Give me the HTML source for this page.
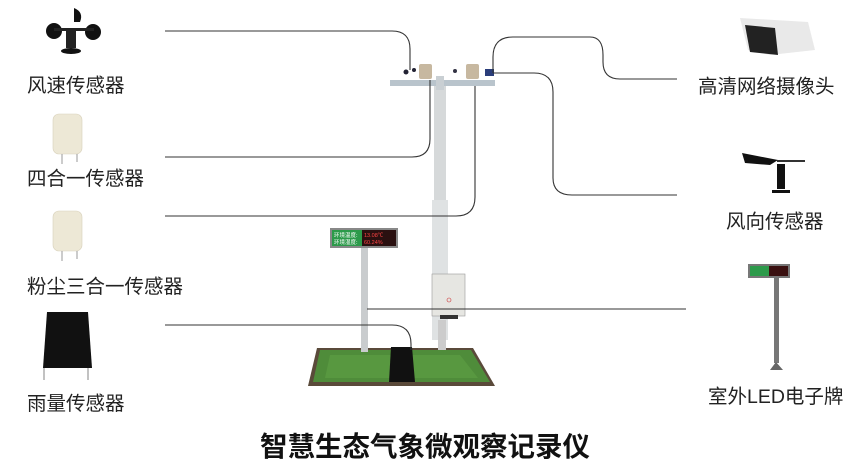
<!DOCTYPE html>
<html><head><meta charset="utf-8"><style>
html,body{margin:0;padding:0;background:#fff;}
body{width:852px;height:471px;position:relative;overflow:hidden;font-family:"Liberation Sans","Noto Sans CJK SC",sans-serif;}
.l{position:absolute;font-size:19.5px;color:#222;white-space:nowrap;line-height:1;}
</style></head><body>
<svg width="852" height="471" style="position:absolute;left:0;top:0">
<!-- base -->
<polygon points="317,348 473,348 495,386 308,386" fill="#5a4a3a"/>
<polygon points="320,350 471,350 490,382 313,382" fill="#4f8c3a"/>
<polygon points="330,355 460,355 478,378 325,378" fill="#5fa044" opacity="0.6"/>
<!-- main pole -->
<rect x="434" y="80" width="12" height="120" fill="#d6d9da"/>
<rect x="432" y="200" width="16" height="140" fill="#dfe2e3"/>
<rect x="438" y="320" width="8" height="30" fill="#ccc"/>
<!-- crossbar -->
<rect x="390" y="80" width="105" height="6" fill="#b9c4cc"/>
<rect x="436" y="76" width="8" height="14" fill="#c9cfd3"/>
<rect x="419" y="64" width="13" height="15" rx="2" fill="#c7b8a0"/>
<rect x="466" y="64" width="13" height="15" rx="2" fill="#c7b8a0"/>
<circle cx="406" cy="72" r="2.5" fill="#223"/><circle cx="414" cy="70" r="2" fill="#223"/>
<circle cx="455" cy="71" r="2" fill="#334"/>
<rect x="485" y="69" width="9" height="7" fill="#2a3d7a"/>
<!-- box -->
<rect x="432" y="274" width="33" height="42" fill="#e6e6e2" stroke="#999" stroke-width="0.6"/>
<rect x="440" y="315" width="18" height="4" fill="#333"/>
<circle cx="449" cy="300" r="2" fill="none" stroke="#c33" stroke-width="0.6"/>
<!-- LED sign -->
<rect x="361" y="247" width="7" height="105" fill="#c9ccce"/>
<rect x="330" y="228" width="68" height="20" fill="#888"/>
<rect x="332" y="230" width="30" height="16" fill="#2c9a4a"/>
<rect x="362" y="230" width="34" height="16" fill="#2a1010"/>
<text x="334" y="237" font-size="5.5" fill="#fff" font-family="Noto Sans CJK SC">环境温度:</text>
<text x="334" y="244" font-size="5.5" fill="#fff" font-family="Noto Sans CJK SC">环境湿度:</text>
<text x="364" y="237" font-size="5.5" fill="#f44">13.08℃</text>
<text x="364" y="244" font-size="5.5" fill="#f44">60.24%</text>
<!-- rain gauge -->
<path d="M391,347 L412,347 L415,382 L389,382 Z" fill="#111"/>
<!-- connectors -->
<g fill="none" stroke="#333" stroke-width="1.1">
<path d="M165,31 H392 Q410,31 410,49 V70"/>
<path d="M165,157 H412 Q430,157 430,139 V80"/>
<path d="M165,216 H456 Q475,216 475,197 V86"/>
<path d="M493,73 V57 Q493,37 513,37 H590 Q603,37 603,55 V62 Q603,79 620,79 H677"/>
<path d="M493,73 H534 Q553,73 553,92 V178 Q553,195 572,195 H677"/>
<path d="M367,309 H686"/>
<path d="M165,325 H392 Q411,325 411,344 V350"/>
</g>
<!-- left icons -->
<g>
<rect x="66" y="28" width="10" height="20" fill="#222"/>
<ellipse cx="71" cy="51" rx="10" ry="3" fill="#111"/>
<circle cx="54" cy="31" r="8" fill="#111"/><circle cx="93" cy="32" r="8" fill="#111"/>
<path d="M74,8 Q84,12 80,22 L74,22Z" fill="#111"/>
<rect x="54" y="28" width="40" height="3" fill="#222"/>
</g>
<g fill="#ede8d6" stroke="#d8d1bb" stroke-width="0.6">
<rect x="53" y="114" width="29" height="40" rx="6"/>
<rect x="53" y="211" width="29" height="40" rx="6"/>
</g>
<g stroke="#999" stroke-width="1"><path d="M62,154v10M77,154v8M62,251v10M77,251v8"/></g>
<path d="M47,312 L88,312 L92,368 L43,368 Z" fill="#111"/>
<g stroke="#999" stroke-width="1.2"><path d="M44,368v12M88,368v12"/></g>
<!-- right icons -->
<path d="M740,18 L808,22 L815,50 L770,55 L748,50 Z" fill="#e9e9e9"/>
<path d="M745,25 L775,28 L778,55 L750,52 Z" fill="#222"/>
<path d="M742,153 L778,160 L770,165 L745,163 Z" fill="#111"/>
<rect x="777" y="164" width="8" height="25" fill="#111"/>
<rect x="772" y="190" width="18" height="3" fill="#111"/>
<rect x="777" y="160" width="28" height="2" fill="#333"/>
<rect x="748" y="264" width="42" height="14" fill="#777"/>
<rect x="750" y="266" width="19" height="10" fill="#2c9a4a"/>
<rect x="769" y="266" width="19" height="10" fill="#3a1010"/>
<rect x="774" y="278" width="5" height="85" fill="#777"/>
<path d="M770,370 L776,362 L783,370 Z" fill="#666"/>
</svg>
<div class="l" style="left:27px;top:77px">风速传感器</div>
<div class="l" style="left:27px;top:170px">四合一传感器</div>
<div class="l" style="left:27px;top:278px">粉尘三合一传感器</div>
<div class="l" style="left:27px;top:395px">雨量传感器</div>
<div class="l" style="left:698px;top:78px">高清网络摄像头</div>
<div class="l" style="left:726px;top:213px">风向传感器</div>
<div class="l" style="left:708px;top:388px">室外LED电子牌</div>
<div style="position:absolute;left:260px;top:433px;font-size:27.5px;font-weight:bold;color:#111;white-space:nowrap;line-height:1;">智慧生态气象微观察记录仪</div>
</body></html>
